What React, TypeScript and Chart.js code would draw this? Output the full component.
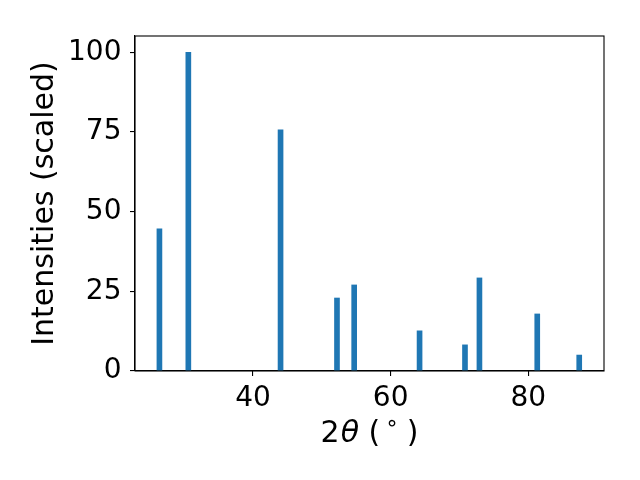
import React, { useEffect, useRef } from "react";
import { Chart, registerables } from "chart.js";

Chart.register(...registerables);

const twoTheta = [26.4, 30.6, 44.0, 52.2, 54.7, 64.2, 70.8, 72.9, 81.3, 87.4];
const intensity = [44.6, 100, 75.7, 22.9, 27.0, 12.6, 8.2, 29.2, 17.9, 5.0];
const xTicks = [40, 60, 80];
const yTicks = [0, 25, 50, 75, 100];
const yTitle = "Intensities (scaled)";

const FONT = "'DejaVu Sans', sans-serif";
const FS = 28;
const TFS = 30;

const framePlugin = {
  id: "frameAndXTitle",
  afterDraw(chart: any) {
    const { ctx, chartArea } = chart;
    const { left, right, top, bottom } = chartArea;
    ctx.save();
    ctx.strokeStyle = "#000";
    ctx.lineWidth = 1.1;
    ctx.strokeRect(left, top, right - left, bottom - top);

    // x title: 2θ (∘)
    const parts = [
      { t: "2", f: `${TFS}px ${FONT}`, dy: 0, gap: 1 },
      { t: "θ", f: `italic ${TFS}px ${FONT}`, dy: 0, gap: 0 },
      { t: " (", f: `${TFS}px ${FONT}`, dy: 0, gap: 5 },
      { t: "∘", f: `${TFS * 0.72}px ${FONT}`, dy: -12, gap: 8 },
      { t: ")", f: `${TFS}px ${FONT}`, dy: 0, gap: 0 },
    ];
    let total = 0;
    const widths = parts.map((p) => {
      ctx.font = p.f;
      const w = ctx.measureText(p.t).width;
      total += w + p.gap;
      return w;
    });
    let x = (left + right) / 2 - total / 2;
    const baseY = bottom + 71;
    ctx.fillStyle = "#000";
    ctx.textBaseline = "alphabetic";
    ctx.textAlign = "left";
    parts.forEach((p, i) => {
      ctx.font = p.f;
      ctx.fillText(p.t, x, baseY + p.dy);
      x += widths[i] + p.gap;
    });
    ctx.restore();
  },
};

export default function App() {
  const ref = useRef<HTMLCanvasElement>(null);
  useEffect(() => {
    document.body.style.margin = "0";
    const chart = new Chart(ref.current as HTMLCanvasElement, {
      type: "bar",
      data: {
        datasets: [
          {
            data: twoTheta.map((x, i) => ({ x, y: intensity[i] })),
            backgroundColor: "#1f77b4",
            borderWidth: 0,
            barThickness: 5,
          } as any,
        ],
      },
      options: {
        animation: false,
        responsive: false,
        devicePixelRatio: 1,
        layout: { padding: { left: 0, right: 36, top: 36, bottom: 0 } },
        plugins: { legend: { display: false }, tooltip: { enabled: false } },
        scales: {
          x: {
            type: "linear",
            min: 22.85,
            max: 91.0,
            offset: false,
            afterBuildTicks: (s: any) => {
              s.ticks = xTicks.map((v) => ({ value: v }));
            },
            afterFit: (s: any) => {
              s.height = 109;
            },
            grid: { display: true, offset: false, drawOnChartArea: false, drawTicks: true, tickLength: 5, color: "#000", lineWidth: 1.1 },
            border: { display: true, color: "#000", width: 1.1 },
            ticks: { color: "#000", font: { family: FONT, size: FS }, padding: 6, maxRotation: 0 },
          },
          y: {
            type: "linear",
            min: 0,
            max: 105.1,
            afterBuildTicks: (s: any) => {
              s.ticks = yTicks.map((v) => ({ value: v }));
            },
            afterFit: (s: any) => {
              s.width = 135;
            },
            grid: { display: true, offset: false, drawOnChartArea: false, drawTicks: true, tickLength: 5, color: "#000", lineWidth: 1.1 },
            border: { display: true, color: "#000", width: 1.1 },
            ticks: { color: "#000", font: { family: FONT, size: FS }, padding: 8.5 },
            title: {
              display: true,
              text: yTitle,
              color: "#000",
              font: { family: FONT, size: TFS },
              padding: { top: 27, bottom: 0 },
            },
          },
        },
      },
      plugins: [framePlugin],
    });
    return () => chart.destroy();
  }, []);
  return <canvas ref={ref} width={640} height={480} style={{ width: 640, height: 480, display: "block" }} />;
}
